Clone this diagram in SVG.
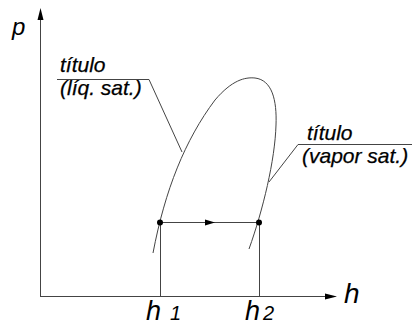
<svg xmlns="http://www.w3.org/2000/svg" width="412" height="325" viewBox="0 0 412 325">
<style>
.ln{stroke:#444;stroke-width:1;fill:none}
.t{font-family:"Liberation Sans",Arial,sans-serif;font-style:italic;fill:#000}
.lb{font-size:21px;stroke:#000;stroke-width:0.25px}
.ah{fill:#000}
</style>
<rect width="412" height="325" fill="#fff"/>
<g id="axes">
<line class="ln" x1="40.5" y1="14" x2="40.5" y2="297"/>
<polygon class="ah" points="40.5,8 37.5,20 43.5,20"/>
<line class="ln" x1="40" y1="296.5" x2="330" y2="296.5"/>
<polygon class="ah" points="337,296.5 325,293.5 325,299.5"/>
<text id="p-label" class="t" x="12" y="35" font-size="24">p</text>
<text id="h-label" class="t" x="344" y="303" font-size="28">h</text>
</g>
<g id="dome">
<path class="ln" d="M153,253 C165,190 185,140 215,100 C232,80 245,77 255,78 C272,80 277,100 276,125 C275,160 263,210 249,249"/>
</g>
<g id="connectors">
<line class="ln" x1="160" y1="222.5" x2="259" y2="222.5"/>
<polygon class="ah" points="215,222.5 205,219.5 205,225.5"/>
<line class="ln" x1="160.5" y1="222" x2="160.5" y2="297"/>
<line class="ln" x1="259.5" y1="222" x2="259.5" y2="297"/>
<polyline class="ln" points="57,79.5 149,79.5 182,152"/>
<polyline class="ln" points="412,144.5 298,144.5 269,182"/>
</g>
<g id="state1">
<circle cx="160" cy="222.5" r="3" fill="#000"/>
<text class="t" x="146" y="320" font-size="27">h</text>
<text class="t" x="170" y="320" font-size="20">1</text>
</g>
<g id="state2">
<circle cx="259" cy="222.5" r="3" fill="#000"/>
<text class="t" x="245" y="320" font-size="27">h</text>
<text class="t" x="263" y="320" font-size="20">2</text>
</g>
<g id="label-liq">
<text class="t lb" x="60" y="72">título</text>
<text class="t lb" x="60" y="95">(líq. sat.)</text>
</g>
<g id="label-vap">
<text class="t lb" x="307" y="140">título</text>
<text class="t lb" x="302" y="163">(vapor sat.)</text>
</g>
</svg>
